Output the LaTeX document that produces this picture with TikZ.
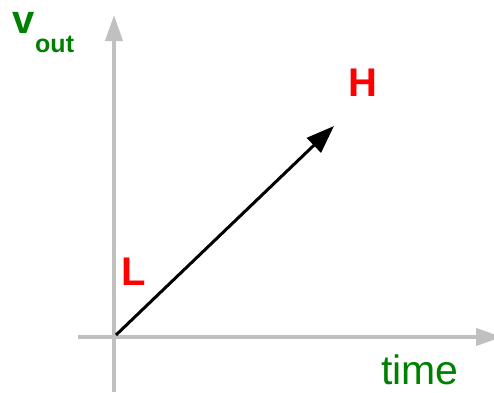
\documentclass[tikz,border=0pt]{standalone}
\usepackage{fontspec}
\setmainfont{Liberation Sans}
\usetikzlibrary{arrows.meta}
\definecolor{axisgray}{HTML}{C0C0C0}
\definecolor{lblgreen}{HTML}{008000}
\definecolor{lblred}{HTML}{FF0000}
\tikzset{
  axisline/.style={draw=axisgray, line width=4pt, -{Triangle[length=26pt,width=17pt]}},
  rampline/.style={draw=black, line width=3pt, -{Triangle[length=28pt,width=20pt]}},
  redlbl/.style={text=lblred, font=\fontsize{40}{40}\selectfont\bfseries, inner sep=0pt, anchor=base},
  greenlbl/.style={text=lblgreen, inner sep=0pt, anchor=base west},
}
\begin{document}
\begin{tikzpicture}[x=1pt, y=-1pt]
\useasboundingbox (0,0) rectangle (494,392);
\begin{scope}
\clip (0,0) rectangle (494,392);
% axes
\coordinate (ybot) at (114,392);
\coordinate (ytop) at (114,15);
\coordinate (xleft) at (78,337);
\coordinate (xright) at (502,337);
\draw[axisline] (ybot) -- (ytop);
\draw[axisline] (xleft) -- (xright);
\end{scope}
% ramp
\coordinate (start) at (116,335);
\coordinate (end) at (334,126);
\draw[rampline] (start) -- (end);
% labels
\node[redlbl] (H) at (362.5,96) {H};
\node[redlbl] (L) at (133.5,285) {L};
\node[greenlbl, font=\fontsize{41}{41}\selectfont] (time) at (381,384) {time};
\node[greenlbl, font=\fontsize{40}{40}\selectfont\bfseries] (v) at (12,33) {v};
\node[greenlbl, font=\fontsize{25}{25}\selectfont\bfseries] (out) at (35,52) {out};
\end{tikzpicture}
\end{document}
